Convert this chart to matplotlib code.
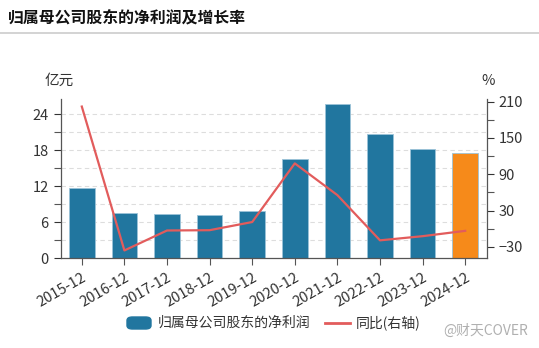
import matplotlib
matplotlib.use("Agg")
import matplotlib.pyplot as plt
from matplotlib.lines import Line2D
from matplotlib.patches import FancyBboxPatch

plt.rcParams["font.family"] = ["Noto Sans CJK SC", "DejaVu Sans"]

# ---------------------------------------------------------------------------
# Data: net profit attributable to parent (100M CNY) and YoY growth (%)
# ---------------------------------------------------------------------------
periods = ["2015-12", "2016-12", "2017-12", "2018-12", "2019-12",
           "2020-12", "2021-12", "2022-12", "2023-12", "2024-12"]
net_profit = [11.67, 7.5, 7.28, 7.1, 7.9, 16.45, 25.6, 20.67, 18.1, 17.45]
yoy_growth = [202, -36, -3, -2.5, 11, 108, 55.5, -19.3, -12.4, -3.6]
left_ticks = [0, 6, 12, 18, 24]
right_ticks = [-30, 30, 90, 150, 210]

BLUE = "#21769f"
ORANGE = "#f68a1a"
RED = "#e25c5c"
AXIS = "#555555"
TEXT = "#333333"
TICK_FS = 10.5

fig = plt.figure(figsize=(5.39, 3.48), dpi=100)
W, H = 539, 348

# header: title and separator line
fig.text(8 / W, 1 - 17 / H, "归属母公司股东的净利润及增长率", fontsize=11.4,
         fontweight="bold", color="#111111", va="center", ha="left")
fig.add_artist(Line2D([0, 1], [1 - 33 / H, 1 - 33 / H], color="#cccccc", lw=1.2))

ax = fig.add_axes([60.5 / W, 1 - 258 / H, (486.5 - 60.5) / W, (258 - 99) / H])
x = list(range(len(periods)))
colors = [BLUE] * (len(periods) - 1) + [ORANGE]
ax.bar(x, net_profit, width=0.6, color=colors, edgecolor="#9cc3d8", linewidth=0.6,
       zorder=2)
ax.set_xlim(-0.5, len(periods) - 0.5)
ax.set_ylim(0, 26.5)
ax.set_yticks(left_ticks)
ax.set_yticks([3, 9, 15, 21], minor=True)
for yv in [3, 6, 9, 12, 15, 18, 21, 24]:
    ax.axhline(yv, color="#dddddd", lw=0.8, ls=(0, (4, 3)), zorder=0)
ax.set_xticks(x)
ax.set_xticklabels(periods, rotation=30, ha="right", rotation_mode="anchor",
                   fontsize=TICK_FS, color=TEXT)
ax.tick_params(axis="y", labelsize=TICK_FS, colors=TEXT, length=5, width=0.8)
ax.tick_params(axis="y", which="minor", length=5, width=0.8, color=AXIS)
ax.tick_params(axis="x", length=5, width=0.8, color=AXIS, pad=4)
for s in ["top", "right"]:
    ax.spines[s].set_visible(False)
for s in ["left", "bottom"]:
    ax.spines[s].set_color(AXIS)
    ax.spines[s].set_linewidth(0.9)

ax2 = ax.twinx()
ax2.plot(x, yoy_growth, color=RED, lw=1.6, zorder=3)
ax2.set_ylim(-48.5, 214.5)
ax2.set_yticks(right_ticks)
ax2.set_yticks([0, 60, 120, 180], minor=True)
ax2.tick_params(axis="y", labelsize=TICK_FS, colors=TEXT, length=5, width=0.8)
ax2.tick_params(axis="y", which="minor", length=5, width=0.8, color=AXIS)
for s in ["top", "left", "bottom"]:
    ax2.spines[s].set_visible(False)
ax2.spines["right"].set_color(AXIS)
ax2.spines["right"].set_linewidth(0.9)

# axis units
fig.text(45 / W, 1 - 81 / H, "亿元", fontsize=TICK_FS, color=TEXT, va="center")
fig.text(481 / W, 1 - 81 / H, "%", fontsize=TICK_FS, color=TEXT, va="center")

# legend drawn manually at the bottom
fig.add_artist(FancyBboxPatch((127 / W, 1 - 329 / H), 24 / W, 12 / H,
                              boxstyle="round,pad=0,rounding_size=0.01",
                              color=BLUE, transform=fig.transFigure))
fig.text(158 / W, 1 - 323 / H, "归属母公司股东的净利润", fontsize=10, color=TEXT,
         va="center")
fig.add_artist(Line2D([325 / W, 350 / W], [1 - 323 / H, 1 - 323 / H],
                      color=RED, lw=2))
fig.text(356 / W, 1 - 323 / H, "同比(右轴)", fontsize=10, color=TEXT, va="center")
fig.text(528 / W, 1 - 331 / H, "@财天COVER", fontsize=10, color="#b0b0b0",
         va="center", ha="right")

fig.savefig("out.png", dpi=100)
